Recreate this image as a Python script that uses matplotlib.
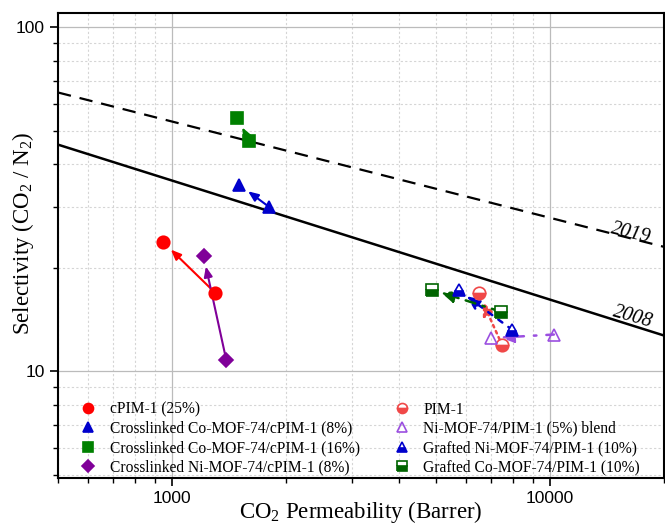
"""
CO2/N2 Robeson plot: selectivity vs. CO2 permeability for MOF-74 / PIM-1 membranes.
Output: out.png
"""

import matplotlib.pyplot as plt
import numpy as np
from matplotlib.ticker import LogLocator, NullFormatter, FixedLocator, FixedFormatter

plt.rcParams['font.family'] = ['Liberation Serif', 'DejaVu Serif']
plt.rcParams['mathtext.fontset'] = 'custom'
plt.rcParams['mathtext.rm'] = 'Liberation Serif'
plt.rcParams['mathtext.it'] = 'Liberation Serif:italic'

# ── Data (start point -> end point of each arrow) ──
cpim_p = [1304, 947]
cpim_s = [16.9, 23.8]

co8_p = [1806, 1507]
co8_s = [30.1, 34.9]

co16_p = [1600, 1488]
co16_s = [46.9, 54.7]

ni8_p = [1393, 1213]
ni8_s = [10.8, 21.7]

pim_p = [7480, 6480]
pim_s = [11.9, 16.9]

blend_p = [10240, 6970]
blend_s = [12.8, 12.5]

gni_p = [7955, 5740]
gni_s = [13.2, 17.2]

gco_p = [7440, 4870]
gco_s = [14.9, 17.3]

# upper bounds
bound_p = [500, 20000]
robeson08_k, robeson08_n = 30967000, -2.888
bound19_a, bound19_b = 368.6, -0.28

fig = plt.figure(figsize=(6.65, 5.27), dpi=100)
ax = fig.add_axes([0.0872, 0.093, 0.911, 0.882])
ax.set_xscale('log')
ax.set_yscale('log')
ax.set_xlim(500, 20000)
ax.set_ylim(4.9, 110)

# ── upper bound lines ──
p = np.array(bound_p, dtype=float)
ax.plot(p, (p / robeson08_k) ** (1 / robeson08_n), color='black', lw=1.8, zorder=3)
ax.plot(p, bound19_a * p ** bound19_b, color='black', lw=1.6, ls=(0, (6, 4)), zorder=3)
ax.text(16400, 25.2, '2019', fontsize=14.5, style='italic', rotation=-14,
        ha='center', va='center')
ax.text(16500, 14.4, '2008', fontsize=14.5, style='italic', rotation=-16,
        ha='center', va='center')

# ── series ──
series = [
    (cpim_p, cpim_s, 'cPIM-1 (25%)', dict(marker='o', color='#FF0000'), '-', 0),
    (co8_p, co8_s, 'Crosslinked Co-MOF-74/cPIM-1 (8%)', dict(marker='^', color='#0000CC'), '-', 0),
    (co16_p, co16_s, 'Crosslinked Co-MOF-74/cPIM-1 (16%)', dict(marker='s', color='#008000'), '-', 0),
    (ni8_p, ni8_s, 'Crosslinked Ni-MOF-74/cPIM-1 (8%)', dict(marker='D', color='#800099', ms=7.5), '-', 0),
    (pim_p, pim_s, 'PIM-1', dict(marker='o', color='#F04848', fillstyle='bottom',
                                 markerfacecoloralt='white'), ':', 1),
    (blend_p, blend_s, 'Ni-MOF-74/PIM-1 (5%) blend', dict(marker='^', color='#9B4FE0',
                                                          fillstyle='none'), (0, (3, 4, 1, 4)), 1),
    (gni_p, gni_s, 'Grafted Ni-MOF-74/PIM-1 (10%)', dict(marker='^', color='#0000CC', fillstyle='bottom',
                                                         markerfacecoloralt='white'), (0, (2, 3)), 1),
    (gco_p, gco_s, 'Grafted Co-MOF-74/PIM-1 (10%)', dict(marker='s', color='#006400', fillstyle='bottom',
                                                         markerfacecoloralt='white'), (0, (4, 3, 1, 3)), 1),
]

handles = []
for px, sy, label, mk, ls, right in series:
    kw = dict(ms=9, mew=1.2, ls='none', zorder=5)
    kw.update(mk)
    h, = ax.plot(px, sy, label=label, **kw)
    handles.append(h)
    if right:
        style, lw, shrink = '-|>,head_length=0.8,head_width=0.35', 1.8, 7
    else:
        style, lw, shrink = '-|>,head_length=0.6,head_width=0.25', 1.5, 8
    ax.annotate('', xy=(px[1], sy[1]), xytext=(px[0], sy[0]),
                arrowprops=dict(arrowstyle=style, color=mk['color'], lw=lw, ls=ls,
                                shrinkA=0, shrinkB=shrink), zorder=4)

# ── axes styling ──
ax.xaxis.set_major_locator(FixedLocator([1000, 10000]))
ax.xaxis.set_major_formatter(FixedFormatter(['1000', '10000']))
ax.xaxis.set_minor_locator(LogLocator(base=10, subs=np.arange(2, 10)))
ax.xaxis.set_minor_formatter(NullFormatter())
ax.yaxis.set_major_locator(FixedLocator([10, 100]))
ax.yaxis.set_major_formatter(FixedFormatter(['10', '100']))
ax.yaxis.set_minor_locator(LogLocator(base=10, subs=np.arange(2, 10)))
ax.yaxis.set_minor_formatter(NullFormatter())

ax.tick_params(which='major', direction='out', length=6, width=1.2, labelsize=12.5,
               labelfontfamily='Liberation Sans')
ax.tick_params(which='minor', direction='out', length=3.5, width=1.0)
ax.grid(True, which='major', color='#BBBBBB', lw=0.9, ls='-')
ax.grid(True, which='minor', color='#D5D5D5', lw=0.8, ls=(0, (2, 2)))
ax.set_axisbelow(True)
for s in ['top', 'right', 'left', 'bottom']:
    ax.spines[s].set_linewidth(1.5)

ax.set_xlabel(r'CO$_2$ Permeability (Barrer)', fontsize=16.5)
ax.xaxis.set_label_coords(0.5, -0.074)
ax.xaxis.label.set_va('center')
ax.set_ylabel(r'Selectivity (CO$_2$ / N$_2$)', fontsize=16.5)
ax.yaxis.set_label_coords(-0.058, 0.527)
ax.yaxis.label.set_va('center')

ax.legend(handles=handles, ncol=2, loc='upper left', bbox_to_anchor=(0.0366, 0.164),
          frameon=False, fontsize=11.2, markerscale=0.8, handlelength=1.0,
          handletextpad=0.9, columnspacing=2.2, labelspacing=0.2,
          borderpad=0, borderaxespad=0)

fig.savefig('out.png', dpi=100)
